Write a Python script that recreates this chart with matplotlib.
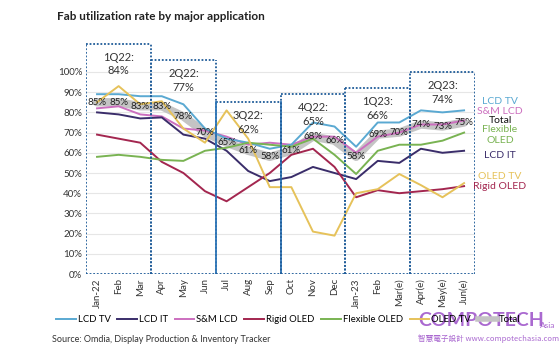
import matplotlib
matplotlib.use("Agg")
import matplotlib.pyplot as plt
from matplotlib.lines import Line2D

plt.rcParams['font.family'] = ['Lato', 'DejaVu Sans']

months = ["Jan-22", "Feb", "Mar", "Apr", "May", "Jun", "Jul", "Aug", "Sep",
          "Oct", "Nov", "Dec", "Jan-23", "Feb", "Mar(e)", "Apr(e)", "May(e)", "Jun(e)"]

lcd_tv = [89, 89, 88, 88, 84, 72, 67, 65, 62, 64, 75, 73, 63, 75, 75, 81, 80, 81]
lcd_it = [80, 79, 77, 77.5, 69, 67, 61, 51, 46, 48, 53, 50, 47, 56, 55, 62, 60, 61]
sm_lcd = [82, 83, 79, 78, 72, 71, 68, 64, 65, 64, 68, 68, 60, 68, 70, 74, 74, 76]
rigid_oled = [69, 67, 65, 55.5, 50, 41, 36, 43, 50, 59, 62, 53, 38, 41.5, 40, 41, 42, 43.5]
flex_oled = [58, 59, 58, 56.5, 56, 61, 62.5, 65, 64, 63, 67, 59, 49.5, 61, 64, 64, 66, 70]
oled_tv = [85, 93, 84, 85.5, 72, 65, 81, 67, 43, 43, 21, 19, 40, 42, 49.5, 44, 38, 45]
total = [85, 85, 83, 83, 78, 70, 65, 61, 58, 61, 68, 66, 58, 69, 70, 74, 73, 75]

quarters = ["1Q22:\n84%", "2Q22:\n77%", "3Q22:\n62%", "4Q22:\n65%", "1Q23:\n66%", "2Q23:\n74%"]
quarter_tops = [114, 106, 85, 89, 92, 100]

c_tv = "#5aa9d2"
c_it = "#3a2d6a"
c_sm = "#cc6fbf"
c_rigid = "#a3264f"
c_flex = "#79b352"
c_oled = "#e6c25a"
c_total = "#c4c4c4"
c_box = "#1f5c99"
c_wm = "#9b4fc8"

fig = plt.figure(figsize=(5.6, 3.5), dpi=100)
ax = fig.add_axes([0.154, 0.217, 0.694, 0.664])
x = list(range(len(months)))

for v in range(10, 101, 10):
    ax.axhline(v, color="#e6e6e6", lw=0.8, zorder=0)

ax.plot(x, total, color=c_total, lw=6, solid_capstyle="round", zorder=1)
ax.plot(x, lcd_tv, color=c_tv, lw=1.4, zorder=3)
ax.plot(x, lcd_it, color=c_it, lw=1.4, zorder=3)
ax.plot(x, sm_lcd, color=c_sm, lw=1.4, zorder=2)
ax.plot(x, rigid_oled, color=c_rigid, lw=1.4, zorder=3)
ax.plot(x, flex_oled, color=c_flex, lw=1.4, zorder=3)
ax.plot(x, oled_tv, color=c_oled, lw=1.4, zorder=3)

for i, v in enumerate(total):
    ax.text(i, v, f"{v}%", ha="center", va="center", fontsize=7, color="#222222", zorder=6)

# quarter boxes
for q in range(6):
    x0, x1 = q * 3 - 0.5, q * 3 + 2.5
    top = quarter_tops[q]
    ax.plot([x0, x1], [top, top], color=c_box, lw=1.3, ls=(0, (1, 1)), zorder=4)
    side_ls = "-" if q == 2 else (0, (1, 1))
    side_c = "#2e75b6" if q == 2 else c_box
    ax.plot([x0, x0], [0, top], color=side_c, lw=1.3, ls=side_ls, zorder=4)
    ax.plot([x1, x1], [0, top], color=side_c, lw=1.3, ls=side_ls, zorder=4)
    ax.plot([x0, x1], [0, 0], color=c_box, lw=1.3, ls=(0, (1, 1)), zorder=4)
    ax.text(q * 3 + 1, top - 4, quarters[q], ha="center", va="top", fontsize=8,
            color="#333333", linespacing=1.3, zorder=6)

ax.set_xlim(-0.5, 17.5)
ax.set_ylim(0, 115)
ax.set_yticks(range(0, 101, 10))
ax.set_yticklabels([f"{v}%" for v in range(0, 101, 10)], fontsize=7, color="#333333")
ax.set_xticks(x)
ax.set_xticklabels(months, rotation=90, fontsize=7, color="#333333")
ax.tick_params(length=0, pad=3)
for s in ax.spines.values():
    s.set_visible(False)

# right side labels
right_labels = [("LCD TV", 101, c_tv), ("S&M LCD", 111, c_sm), ("Total", 121, "#111111"),
                ("Flexible", 129.5, c_flex), ("OLED", 141, c_flex), ("LCD IT", 156, c_it),
                ("OLED TV", 177, c_oled), ("Rigid OLED", 186, c_rigid)]
for txt, ypix, col in right_labels:
    fig.text(500 / 560, 1 - ypix / 350, txt, ha="center", va="center", fontsize=7.5, color=col)

fig.text(57 / 560, 1 - 16 / 350, "Fab utilization rate by major application",
         fontsize=8.5, fontweight="bold", ha="left", va="center", color="#222222")

handles = [Line2D([0], [0], color=c, lw=1.4) for c in [c_tv, c_it, c_sm, c_rigid, c_flex, c_oled]]
handles.append(Line2D([0], [0], color=c_total, lw=4))
fig.legend(handles, ["LCD TV", "LCD IT", "S&M LCD", "Rigid OLED", "Flexible OLED", "OLED TV", "Total"],
           loc="center", bbox_to_anchor=(0.515, 1 - 320 / 350), ncol=7, frameon=False,
           fontsize=6.8, handlelength=2.1, handletextpad=0.2, columnspacing=0.7)

fig.text(52 / 560, 1 - 340 / 350, "Source: Omdia, Display Production & Inventory Tracker",
         fontsize=6.5, ha="left", va="center", color="#333333")

# watermark
fig.text(418 / 560, 1 - 320 / 350, "COMPOTECH", fontsize=14, fontweight="bold", color=c_wm,
         alpha=0.85, ha="left", va="center")
fig.text(540 / 560, 1 - 326 / 350, "Asia", fontsize=6, color=c_wm, alpha=0.85,
         ha="left", va="center")
fig.text(418 / 560, 1 - 339 / 350, "智慧電子設計 www.compotechasia.com", fontsize=5.5, color=c_wm,
         alpha=0.85, ha="left", va="center", family=["Noto Sans CJK TC", "DejaVu Sans"])

fig.savefig("out.png", dpi=100, facecolor="white")
